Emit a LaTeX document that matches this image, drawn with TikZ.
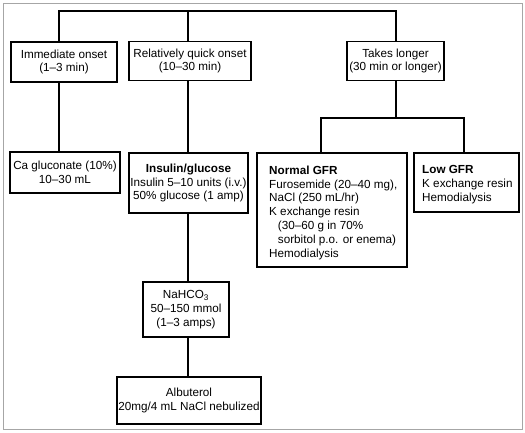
\documentclass[tikz,border=0pt]{standalone}
\usepackage{fontspec}
\setmainfont{Liberation Sans}
\begin{document}
\begin{tikzpicture}[x=1pt,y=-1pt,
  box/.style={draw=black,line width=1.4pt,rectangle,inner sep=0pt,align=center,
    font=\fontsize{11.7}{13.9}\selectfont},
  lbox/.style={draw=none,rectangle,align=left,anchor=north west,inner sep=0pt,
    font=\fontsize{11.7}{13.9}\selectfont},
  conn/.style={line width=1.4pt,line cap=rect}]
\useasboundingbox (0,0) rectangle (525,432);
\draw[gray!70,line width=0.8pt] (3,3) rectangle (522,429);
% top level
\node[box,minimum width=106pt,minimum height=40pt] (b1) at (64,62) {Immediate onset\\(1--3 min)};
\node[box,minimum width=122pt,minimum height=39pt] (b2) at (190,61) {Relatively quick onset\\(10--30 min)};
\node[box,minimum width=97pt,minimum height=39pt] (b3) at (395.5,61) {Takes longer\\(30 min or longer)};
% second level
\node[box,minimum width=110pt,minimum height=41pt] (ca) at (65,172.5) {Ca gluconate (10\%)\\10--30 mL};
\node[box,minimum width=119pt,minimum height=60pt] (ins) at (188.5,183) {\textbf{Insulin/glucose}\\Insulin 5--10 units (i.v.)\\50\% glucose (1 amp)};
\node[box,minimum width=86pt,minimum height=55pt] (nah) at (186,309.5) {NaHCO\textsubscript{3}\\50--150 mmol\\(1--3 amps)};
\node[box,minimum width=144pt,minimum height=47pt] (alb) at (189,400.5) {Albuterol\\20mg/4 mL NaCl nebulized};
\node[box,minimum width=150pt,minimum height=114pt] (ngfr) at (332,210) {};
\node[lbox] (ngfrt) at (269,165.5) {\textbf{Normal GFR}\\Furosemide (20--40 mg),\\NaCl (250 mL/hr)\\K exchange resin\\\hspace{0.75em}(30--60 g in 70\%\\\hspace{0.75em}sorbitol p.o. or enema)\\Hemodialysis};
\node[box,minimum width=105pt,minimum height=59pt] (lgfr) at (466.5,182.5) {};
\node[lbox] (lgfrt) at (422,165.5) {\textbf{Low GFR}\\K exchange resin\\Hemodialysis};
% connectors
\coordinate (tl) at (59,11);
\coordinate (tm) at (188,11);
\coordinate (tr) at (396,11);
\draw[conn] (b1.north -| tl) -- (tl) -- (tr) -- (b3.north -| tr);
\draw[conn] (tm) -- (b2.north -| tm);
\draw[conn] (b1.south -| tl) -- (ca.north -| tl);
\draw[conn] (b2.south -| tm) -- (ins.north -| tm);
\draw[conn] (ins.south -| tm) -- (nah.north -| tm);
\draw[conn] (nah.south -| tm) -- (alb.north -| tm);
\coordinate (bl) at (321,118);
\coordinate (br) at (464,118);
\draw[conn] (b3.south -| tr) -- (tr |- bl);
\draw[conn] (ngfr.north -| bl) -- (bl) -- (br) -- (lgfr.north -| br);
\end{tikzpicture}
\end{document}
